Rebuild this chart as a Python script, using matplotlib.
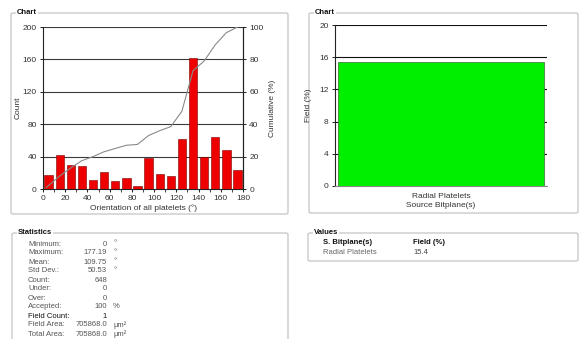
import numpy as np
import matplotlib
matplotlib.use("Agg")
import matplotlib.pyplot as plt
from matplotlib.patches import FancyBboxPatch

plt.rcParams['font.family'] = ['Liberation Sans', 'DejaVu Sans']

# ---------------- data ----------------
bin_left = [0, 10, 20, 30, 40, 50, 60, 70, 80, 90, 100, 110, 120, 130, 140, 150, 160, 170]
counts = [17, 42, 30, 28, 11, 21, 10, 14, 4, 38, 18, 16, 62, 162, 40, 64, 48, 23]
cum_x = [3, 15, 25, 35, 45, 55, 65, 75, 85, 95, 105, 115, 125, 135, 145, 155, 165, 175]
cum_y = [1, 8, 13, 17.5, 20, 23, 25, 27, 27.5, 33, 36, 38.5, 48, 73, 79, 89, 96.5, 100]
count_ticks = [0, 40, 80, 120, 160, 200]
cum_ticks = [0, 20, 40, 60, 80, 100]
x_ticks = [0, 20, 40, 60, 80, 100, 120, 140, 160, 180]

field_cats = ["Radial Platelets"]
field_vals = [15.4]
field_ticks = [0, 4, 8, 12, 16, 20]

stat_labels = ["Minimum:", "Maximum:", "Mean:", "Std Dev.:", "Count:", "Under:",
               "Over:", "Accepted:", "Field Count:", "Field Area:", "Total Area:"]
stat_values = ["0", "177.19", "109.75", "50.53", "648", "0", "0", "100", "1",
               "705868.0", "705868.0"]
stat_units = ["°", "°", "°", "°", "", "", "", "%", "", "µm²", "µm²"]

val_headers = ["S. Bitplane(s)", "Field (%)"]
val_rows = [["Radial Platelets", "15.4"]]

# ---------------- figure ----------------
W, H = 579, 339
fig = plt.figure(figsize=(W / 100, H / 100), dpi=100)
fig.patch.set_facecolor('white')

def fx(x):
    return x / W

def fy(y):
    return 1 - y / H

def panel(x0, y0, x1, y1, title):
    p = FancyBboxPatch((fx(x0), fy(y1)), fx(x1) - fx(x0), fy(y0) - fy(y1),
                       boxstyle="round,pad=0,rounding_size=0.004",
                       transform=fig.transFigure, facecolor='none',
                       edgecolor='#c4c4c4', linewidth=0.9, zorder=0)
    fig.add_artist(p)
    fig.text(fx(x0 + 6), fy(y0), title, fontsize=5.5, fontweight='bold',
             color='#111111', ha='left', va='center',
             bbox=dict(facecolor='white', edgecolor='none', pad=0.6), zorder=1)

panel(11, 13, 288, 214, "Chart")
panel(309, 13, 578, 213, "Chart")
panel(12, 233, 288, 345, "Statistics")
panel(308, 233, 578, 261, "Values")

tick_kw = dict(labelsize=6, labelcolor='#333333', length=2, width=0.6, pad=2.5)

# ---------------- left chart ----------------
ax = fig.add_axes([fx(43), fy(189), fx(243) - fx(43), fy(27) - fy(189)])
ax.bar(np.array(bin_left) + 5, counts, width=7.5, color='#ee0000',
       edgecolor='#7a0000', linewidth=0.4, zorder=3)
ax.set_xlim(0, 180)
ax.set_ylim(0, 200)
ax.set_yticks(count_ticks)
ax.set_xticks(x_ticks)
ax.set_xticks(bin_left[1:] + [180], minor=True)
for t in count_ticks[1:]:
    ax.axhline(t, color='#3a3a3a', linewidth=0.8, zorder=1)
ax.spines['top'].set_visible(False)
for s in ['left', 'bottom', 'right']:
    ax.spines[s].set_color('#222222')
    ax.spines[s].set_linewidth(0.8)
ax.tick_params(**tick_kw)
ax.tick_params(which='minor', length=2, width=0.5)
ax.set_ylabel("Count", fontsize=6, color='#333333', labelpad=0.5)
ax.set_xlabel("Orientation of all platelets (°)", fontsize=6, color='#333333', labelpad=1.5)

ax2 = ax.twinx()
ax2.plot(cum_x, cum_y, color='#8a8a8a', linewidth=0.8, zorder=4)
ax2.set_ylim(0, 100)
ax2.set_yticks(cum_ticks)
ax2.tick_params(**tick_kw)
for s in ['top', 'left', 'bottom']:
    ax2.spines[s].set_visible(False)
ax2.spines['right'].set_color('#222222')
ax2.spines['right'].set_linewidth(0.8)
ax2.set_ylabel("Cumulative (%)", fontsize=6, color='#333333', labelpad=4)

# ---------------- right chart ----------------
bx = fig.add_axes([fx(335), fy(186), fx(547) - fx(335), fy(25) - fy(186)])
bx.set_xlim(-0.5, 0.5)
bx.set_ylim(0, 20)
for t in field_ticks[1:]:
    bx.axhline(t, color='#111111', linewidth=0.8, zorder=1)
bx.bar(range(len(field_vals)), field_vals, width=0.975, align='center',
       color='#00ee00', edgecolor='#3a6b3a', linewidth=0.5, zorder=3)
bx.set_xticks([])
bx.set_yticks(field_ticks)
bx.tick_params(**tick_kw)
for s in ['top', 'right']:
    bx.spines[s].set_visible(False)
bx.spines['left'].set_color('#222222')
bx.spines['left'].set_linewidth(0.8)
bx.spines['bottom'].set_color('#888888')
bx.spines['bottom'].set_linewidth(0.8)
bx.set_ylabel("Field (%)", fontsize=6, color='#333333', labelpad=5)
bx.set_xlabel(field_cats[0] + "\nSource Bitplane(s)", fontsize=6,
              color='#333333', labelpad=5, linespacing=1.45)

# ---------------- statistics ----------------
y0 = 244
dy = 9
for i, (lab, val, unit) in enumerate(zip(stat_labels, stat_values, stat_units)):
    col = '#111111' if lab == "Field Count:" else '#555555'
    y = fy(y0 + i * dy)
    fig.text(fx(28), y, lab, fontsize=5.5, color=col, ha='left', va='center')
    fig.text(fx(107), y, val, fontsize=5.5, color=col, ha='right', va='center')
    if unit:
        fig.text(fx(113), y, unit, fontsize=5.5, color=col, ha='left', va='center')

# ---------------- values ----------------
fig.text(fx(323), fy(243), val_headers[0], fontsize=5.5, fontweight='bold',
         color='#111111', ha='left', va='center')
fig.text(fx(413), fy(243), val_headers[1], fontsize=5.5, fontweight='bold',
         color='#111111', ha='left', va='center')
for r, row in enumerate(val_rows):
    fig.text(fx(323), fy(253 + r * 9), row[0], fontsize=5.5, color='#666666',
             ha='left', va='center')
    fig.text(fx(413), fy(253 + r * 9), row[1], fontsize=5.5, color='#444444',
             ha='left', va='center')

fig.savefig("out.png", dpi=100)
